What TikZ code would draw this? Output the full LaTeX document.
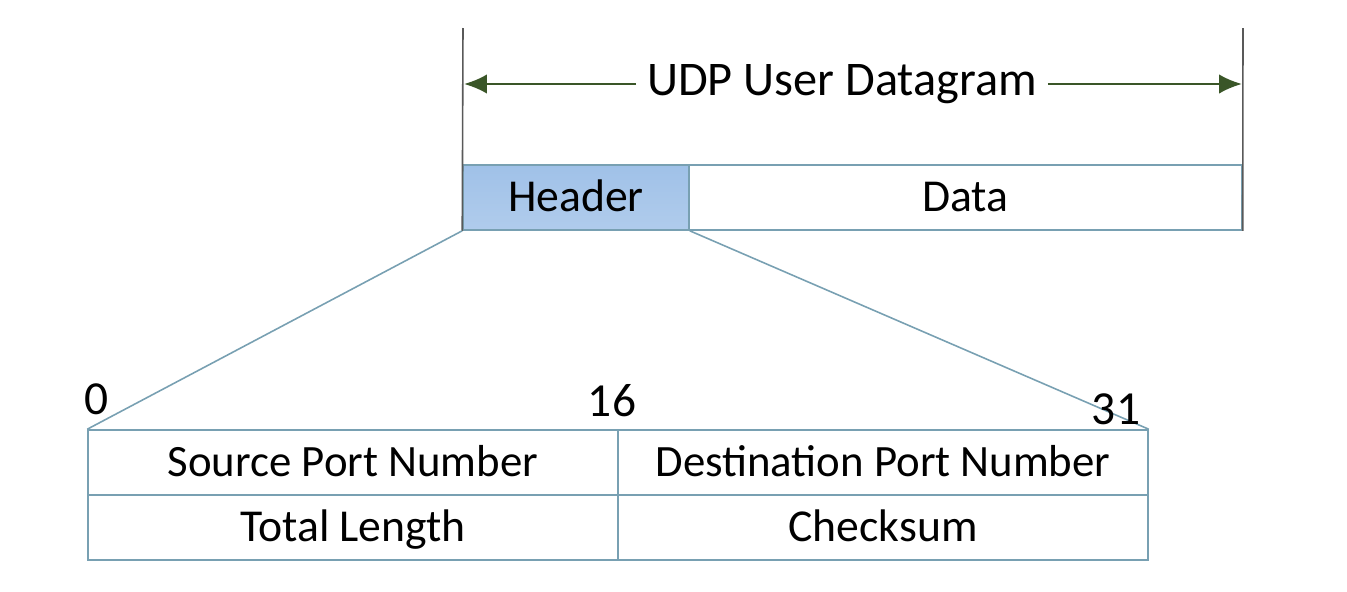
\documentclass[tikz,border=0pt]{standalone}
\usepackage{fontspec}
\setmainfont{Carlito}
\usetikzlibrary{arrows.meta}
\definecolor{boxline}{RGB}{120,160,178}
\definecolor{hdrtop}{RGB}{160,193,232}
\definecolor{hdrbottom}{RGB}{176,204,236}
\definecolor{arrowgreen}{RGB}{58,86,40}
\tikzset{
    cell/.style = {draw = boxline, line width = 0.9pt, minimum height = 1.3cm, inner sep = 0pt, text height = 20pt, text depth = 4.6pt, font = \fontsize{26}{30}\selectfont},
    bitlabel/.style = {font = \fontsize{27}{30}\selectfont, inner sep = 0pt},
    span/.style = {arrowgreen, line width = 1.3pt, -{Latex[length = 13pt, width = 11pt]}}
}

\begin{document}
\begin{tikzpicture}[x = 0.02cm, y = -0.02cm]
        \useasboundingbox (0, 0) rectangle (1347, 592);
        \node[cell, minimum width = 4.52cm, top color = hdrtop, bottom color = hdrbottom] (header) at (576, 197.5) {Header};
        \node[cell, minimum width = 11.06cm] (data) at (965.5, 197.5) {Data};
        \coordinate (lefttop) at (463, 28);
        \coordinate (righttop) at (1243, 28);
        \draw[black!65, line width = 0.9pt] (lefttop) -- (header.south west);
        \draw[black!65, line width = 0.9pt] (righttop) -- (data.south east);
        \node[font = \fontsize{27.5}{30}\selectfont, inner xsep = 6pt] (title) at (842, 84) {UDP User Datagram};
        \coordinate (lefttip) at (464, 84);
        \coordinate (righttip) at (1242, 84);
        \draw[span] (title.west) -- (lefttip);
        \draw[span] (title.east) -- (righttip);
        % header fields
        \node[cell, minimum width = 10.6cm, font = \fontsize{25.5}{30}\selectfont] (srcport) at (353, 462.5) {Source Port Number};
        \node[cell, minimum width = 10.6cm, font = \fontsize{25.5}{30}\selectfont] (dstport) at (883, 462.5) {Destination Port Number};
        \node[cell, minimum width = 10.6cm] (totlen) at (353, 527.5) {Total Length};
        \node[cell, minimum width = 10.6cm] (checksum) at (883, 527.5) {Checksum};
        \draw[boxline, line width = 0.9pt] (header.south west) -- (srcport.north west);
        \draw[boxline, line width = 0.9pt] (header.south east) -- (dstport.north east);
        \node[bitlabel] (bit0) at (97, 399) {0};
        \node[bitlabel] (bit16) at (612, 401) {16};
        \node[bitlabel] (bit31) at (1116, 409) {31};
    \end{tikzpicture}
\end{document}
